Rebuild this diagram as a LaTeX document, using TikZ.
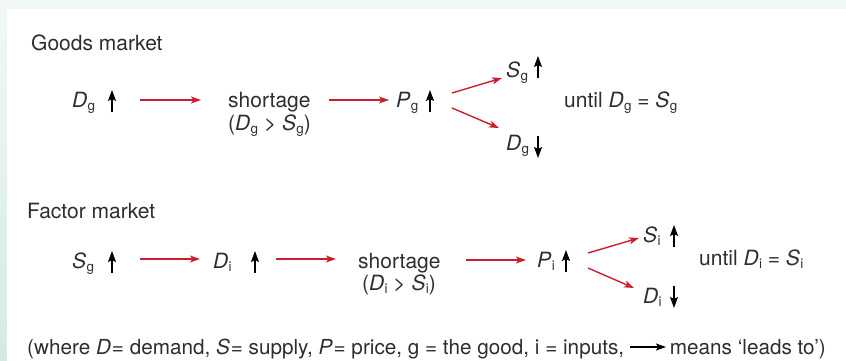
\documentclass[tikz,border=0pt]{standalone}
\usepackage{fontspec}
\setmainfont{TeX Gyre Heros}
\usetikzlibrary{arrows.meta}
\definecolor{txt}{HTML}{2E2E2E}
\definecolor{arr}{HTML}{CC1F2D}
\definecolor{framegreen}{HTML}{F2F8F6}
\definecolor{framegreendark}{HTML}{D3EBE3}
\newcommand{\vv}[2]{\textit{#1}\kern0.3pt\raisebox{-3.5pt}{\fontsize{13.5}{14}\selectfont #2}}
\begin{document}
\begin{tikzpicture}[x=1pt,y=-1pt,
  lbl/.style={anchor=base west, inner sep=0pt, text=txt, font=\fontsize{21}{25}\selectfont},
  footlbl/.style={lbl, font=\fontsize{20.7}{25}\selectfont},
  redarrow/.style={draw=arr, line width=1.4pt, -{Stealth[length=10pt,width=7pt,inset=2.5pt]}},
  vertarrow/.style={draw=black, line width=1.2pt, -{Stealth[length=11pt,width=8pt,inset=2pt]}}]
% background frame
\useasboundingbox (0,0) rectangle (846,360);
\fill[framegreen] (0,0) rectangle (846,9);
\shade[top color=framegreen, bottom color=framegreendark] (0,0) rectangle (7,360);
\fill[white] (7,9) rectangle (846,360);

% ---------------- Goods market
\node[lbl] (gm) at (31,50) {Goods market};
\node[lbl] (dg1) at (72,107) {\vv{D}{g}};
\coordinate (dg1a) at (112,112); \coordinate (dg1b) at (112,90);
\draw[vertarrow] (dg1a) -- (dg1b);
\coordinate (r1a) at (140,100); \coordinate (r1b) at (201,100);
\draw[redarrow] (r1a) -- (r1b);
\node[lbl] (sh1) at (228,107) {shortage};
\node[lbl] (sh1b) at (228,130) {(\vv{D}{g} > \vv{S}{g})};
\coordinate (r2a) at (329,100); \coordinate (r2b) at (389,100);
\draw[redarrow] (r2a) -- (r2b);
\node[lbl] (pg) at (396,107) {\vv{P}{g}};
\coordinate (pga) at (430,112); \coordinate (pgb) at (430,90);
\draw[vertarrow] (pga) -- (pgb);
\coordinate (d1a) at (452,93); \coordinate (d1b) at (502,78);
\draw[redarrow] (d1a) -- (d1b);
\coordinate (d2a) at (452,108); \coordinate (d2b) at (499,128);
\draw[redarrow] (d2a) -- (d2b);
\node[lbl] (sg) at (506,77) {\vv{S}{g}};
\coordinate (sga) at (538,78); \coordinate (sgb) at (538,56);
\draw[vertarrow] (sga) -- (sgb);
\node[lbl] (dg2) at (506,150) {\vv{D}{g}};
\coordinate (dg2a) at (538,136); \coordinate (dg2b) at (538,158);
\draw[vertarrow] (dg2a) -- (dg2b);
\node[lbl] (until1) at (564,107) {until \vv{D}{g} = \vv{S}{g}};

% ---------------- Factor market
\node[lbl] (fm) at (27,218) {Factor market};
\node[lbl] (sg3) at (72,268) {\vv{S}{g}};
\coordinate (sg3a) at (112,273); \coordinate (sg3b) at (112,251);
\draw[vertarrow] (sg3a) -- (sg3b);
\coordinate (r3a) at (140,259); \coordinate (r3b) at (200,259);
\draw[redarrow] (r3a) -- (r3b);
\node[lbl] (di1) at (213,268) {\vv{D}{i}};
\coordinate (di1a) at (255,273); \coordinate (di1b) at (255,251);
\draw[vertarrow] (di1a) -- (di1b);
\coordinate (r4a) at (276,259); \coordinate (r4b) at (336,259);
\draw[redarrow] (r4a) -- (r4b);
\node[lbl] (sh2) at (358,268) {shortage};
\node[lbl] (sh2b) at (362,290) {(\vv{D}{i} > \vv{S}{i})};
\coordinate (r5a) at (466,260); \coordinate (r5b) at (526,260);
\draw[redarrow] (r5a) -- (r5b);
\node[lbl] (pi) at (537,267) {\vv{P}{i}};
\coordinate (pia) at (566,272); \coordinate (pib) at (566,250);
\draw[vertarrow] (pia) -- (pib);
\coordinate (d3a) at (588,253); \coordinate (d3b) at (639,238);
\draw[redarrow] (d3a) -- (d3b);
\coordinate (d4a) at (588,268); \coordinate (d4b) at (634,288);
\draw[redarrow] (d4a) -- (d4b);
\node[lbl] (si) at (643,242) {\vv{S}{i}};
\coordinate (sia) at (674,247); \coordinate (sib) at (674,225);
\draw[vertarrow] (sia) -- (sib);
\node[lbl] (di2) at (643,303) {\vv{D}{i}};
\coordinate (di2a) at (674,286); \coordinate (di2b) at (674,308);
\draw[vertarrow] (di2a) -- (di2b);
\node[lbl] (until2) at (699,265) {until \vv{D}{i} = \vv{S}{i}};

% ---------------- footer
\node[footlbl] (foot1) at (27,354) {(where \textit{D}\kern1pt= demand, \textit{S}\kern1pt= supply, \textit{P}\kern1pt= price, g = the good, i = inputs,};
\node[footlbl, anchor=base east] (foot2) at (826,354) {means ‘leads to’)};
\coordinate (fa) at (630,347); \coordinate (fb) at (666,347);
\draw[draw=black, line width=1.2pt, -{Stealth[length=10pt,width=7pt,inset=2pt]}] (fa) -- (fb);
\end{tikzpicture}
\end{document}
